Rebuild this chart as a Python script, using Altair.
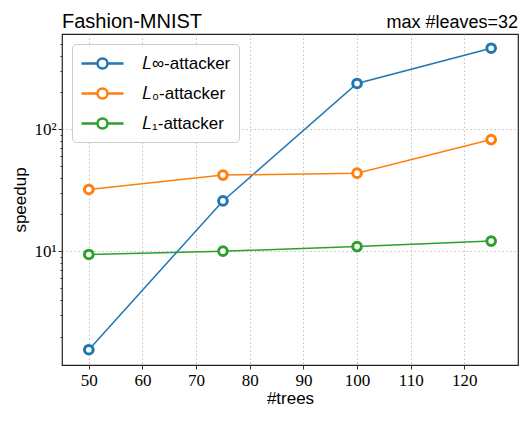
import altair as alt
import pandas as pd

# ---- data ----
trees = [50, 75, 100, 125]
linf_speedup = [1.56, 25.8, 236, 459]
l0_speedup = [32, 42, 43.5, 82]
l1_speedup = [9.4, 10.0, 10.9, 12.1]
series_names = ["𝐿∞-attacker", "𝐿₀-attacker", "𝐿₁-attacker"]
series_colors = ["#1f77b4", "#ff7f0e", "#2ca02c"]
x_ticks = [50, 60, 70, 80, 90, 100, 110, 120]
y_ticks = [2, 3, 4, 5, 6, 7, 8, 9, 10, 20, 30, 40, 50, 60, 70, 80, 90, 100,
           200, 300, 400, 500]
title_left = "Fashion-MNIST"
title_right = "max #leaves=32"

rows = []
for name, vals in zip(series_names, [linf_speedup, l0_speedup, l1_speedup]):
    for t, v in zip(trees, vals):
        rows.append({"series": name, "trees": t, "speedup": v})
df = pd.DataFrame(rows)
df_left = pd.DataFrame({"t": [title_left]})
df_right = pd.DataFrame({"t": [title_right]})

W, H = 456, 331
major_test = "datum.value == 10 || datum.value == 100"

legend_path = ("M-2.1,0H-0.5M0.5,0H2.1"
               "M-0.5,0A0.5,0.5,0,1,1,0.5,0A0.5,0.5,0,1,1,-0.5,0")

color = alt.Color(
    "series:N",
    scale=alt.Scale(domain=series_names, range=series_colors),
    legend=alt.Legend(
        title=None, orient="top-left", offset=10,
        symbolType=legend_path, symbolSize=400, symbolStrokeWidth=2.5,
        symbolFillColor="white", symbolOffset=11, labelOffset=28,
        labelFont="Liberation Sans", labelFontSize=17, labelColor="black",
        labelLimit=300, padding=8, rowPadding=8,
        fillColor="rgba(255,255,255,0.85)", strokeColor="#cccccc",
        cornerRadius=4,
    ),
)
x = alt.X("trees:Q",
          scale=alt.Scale(domain=[45, 130], nice=False, zero=False),
          axis=alt.Axis(values=x_ticks, title="#trees", tickSize=4,
                        labelPadding=3, titlePadding=2, format="d"))
y = alt.Y("speedup:Q",
          scale=alt.Scale(type="log", domain=[1.17, 600], nice=False),
          axis=alt.Axis(values=y_ticks, title="speedup",
                        labelExpr="datum.value == 10 ? '10¹' : datum.value == 100 ? '10²' : ''",
                        labelOverlap=False,
                        tickSize={"condition": {"test": major_test, "value": 4}, "value": 2},
                        gridOpacity={"condition": {"test": major_test, "value": 1}, "value": 0},
                        labelPadding=2, titlePadding=4))

base = alt.Chart(df)
lines = base.mark_line(strokeWidth=1.5).encode(x=x, y=y, color=color,
                                               order="trees:Q")
points = base.mark_point(shape="circle", size=75, strokeWidth=3, fill="white",
                         filled=False, opacity=1).encode(x=x, y=y, color=color)
left_text = alt.Chart(df_left).mark_text(
    align="left", baseline="alphabetic", font="Liberation Sans",
    fontSize=20, color="black").encode(
    x=alt.value(0), y=alt.value(-6), text="t:N")
right_text = alt.Chart(df_right).mark_text(
    align="right", baseline="alphabetic", font="Liberation Sans",
    fontSize=18, color="black").encode(
    x=alt.value(W), y=alt.value(-6), text="t:N")

chart = alt.layer(lines, points, left_text, right_text).properties(
    width=W, height=H,
    padding={"left": 54, "top": 26, "right": 1, "bottom": 41},
    autosize=alt.AutoSizeParams(type="none"),
).configure_view(stroke="#222222", strokeWidth=1.2).configure_axis(
    domain=False,
    labelFont="Liberation Serif", labelFontSize=17, labelColor="black",
    titleFont="Liberation Sans", titleFontSize=17, titleFontWeight="normal",
    titleColor="black", tickColor="#333333",
    gridColor="#b0b0b0", gridDash=[1.5, 2.5], gridWidth=0.8,
)

chart.save("out.html", embed_options={"renderer": "svg", "actions": False})
